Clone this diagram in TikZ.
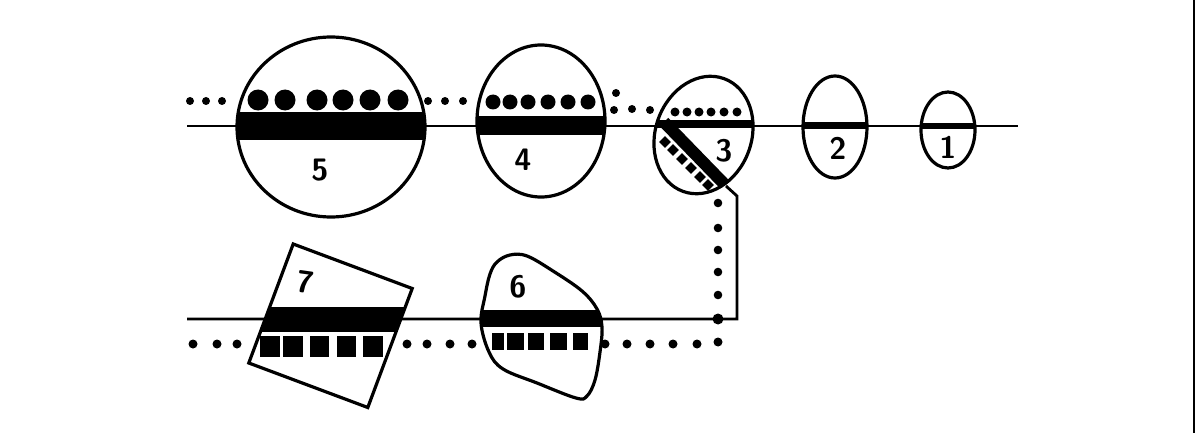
\documentclass[tikz,border=0pt]{standalone}
\begin{document}
\begin{tikzpicture}[x=1pt,y=-1pt,
  outl/.style={line width=3.2pt},
  wire/.style={line width=2.8pt},
  lbl/.style={font=\fontsize{31}{31}\selectfont\sffamily\bfseries, inner sep=0pt}]
\useasboundingbox (0,0) rectangle (1195,436);
\fill[white] (0,0) rectangle (1195,436);
% right border line
\draw[line width=2pt] (1193.5,0) -- (1193.5,433);
% main lines
\coordinate (tl) at (187,126); \coordinate (tr) at (1018,126);
\draw[wire] (tl) -- (tr);
\coordinate (bl) at (187,319); \coordinate (bc) at (737,319);
\coordinate (bk) at (737,196); \coordinate (bs) at (726,186);
\draw[wire, line join=miter] (bl) -- (bc) -- (bk) -- (bs);
% ---- circle 5
\coordinate (c5) at (331,127);
\begin{scope}
\clip (c5) ellipse [x radius=94, y radius=90];
\fill (200,112) rectangle (460,140);
\end{scope}
\draw[outl] (c5) ellipse [x radius=94, y radius=90];
\foreach \x in {258,285,317,343,370,398} \fill (\x,100) circle (10.5);
% ---- ellipse 4
\coordinate (c4) at (541,121);
\begin{scope}
\clip (c4) ellipse [x radius=64, y radius=76];
\fill (470,116) rectangle (615,135);
\end{scope}
\draw[outl] (c4) ellipse [x radius=64, y radius=76];
\foreach \x in {493,510,528,548,568,588} \fill (\x,102) circle (7.5);
% ---- ellipse 3
\coordinate (c3) at (703.5,135);
\begin{scope}
\clip[rotate around={-20:(c3)}] (c3) ellipse [x radius=48, y radius=60];
\fill (640,120) rectangle (760,128);
\draw[line width=12pt] (664,122) -- (732,192);
\end{scope}
\draw[outl, rotate around={-20:(c3)}] (c3) ellipse [x radius=48, y radius=60];
\foreach \x in {675,687,699,711,724,737} \fill (\x,112) circle (4.5);
\foreach \x/\y in {665/142,673/150,682/159,691/168,700/177,708/185}
  \fill[rotate around={45:(\x,\y)}] (\x-4.2,\y-4.2) rectangle (\x+4.2,\y+4.2);
% ---- ellipse 2
\coordinate (c2) at (835,127);
\begin{scope}
\clip (c2) ellipse [x radius=32, y radius=51];
\fill (800,122) rectangle (870,129);
\end{scope}
\draw[outl] (c2) ellipse [x radius=32, y radius=51];
% ---- ellipse 1
\coordinate (c1) at (948,130);
\begin{scope}
\clip (c1) ellipse [x radius=27, y radius=38];
\fill (915,123) rectangle (980,129);
\end{scope}
\draw[outl] (c1) ellipse [x radius=27, y radius=38];
% top dots
\foreach \x in {190,206,222,428,445,463} \fill (\x,101) circle (4);
\foreach \x/\y in {616/93,614/110,632/109,650/110} \fill (\x,\y) circle (4);
% ---- square 7
\coordinate (s7a) at (293.2,244.0); \coordinate (s7b) at (412.2,288.5);
\coordinate (s7c) at (367.8,407.5); \coordinate (s7d) at (248.8,363.0);
\begin{scope}
\clip (s7a) -- (s7b) -- (s7c) -- (s7d) -- cycle;
\fill (240,307) rectangle (420,332);
\end{scope}
\draw[outl, line join=miter] (s7a) -- (s7b) -- (s7c) -- (s7d) -- cycle;
\foreach \a/\b in {260/280,283/303,310/329,337/356,363/383} \fill (\a,336) rectangle (\b,357);
% ---- blob 6
\def\blob{plot[smooth cycle, tension=0.6] coordinates {(497,262) (510,255) (527,256) (553,271) (582,291) (597,309) (602,327) (600,352) (595,380) (587,396) (576,398) (537,383) (503,369) (489,352) (481,323) (485,296) (490,274)}}
\begin{scope}
\clip \blob;
\fill (470,310) rectangle (615,327);
\end{scope}
\draw[outl] \blob;
\foreach \a/\b in {492/504,507/524,528/544,550/567,573/588} \fill (\a,333) rectangle (\b,350);
% bottom dots
\foreach \x in {193,217,237,407,427,450,472,605,627,650,673,697} \fill (\x,344) circle (4.5);
\fill (718,342) circle (4.5);
\foreach \y in {203,228,250,272,295} \fill (718,\y) circle (4.3);
\fill (718,319) circle (5.5);
% labels
\node[lbl] (l5) at (320,170) {5};
\node[lbl] (l4) at (523,160) {4};
\node[lbl] (l3) at (724,151) {3};
\node[lbl] (l2) at (838,148) {2};
\node[lbl] (l1) at (948,147) {1};
\node[lbl, rotate=-8] (l7) at (305,282) {7};
\node[lbl] (l6) at (518,287) {6};
\end{tikzpicture}
\end{document}
